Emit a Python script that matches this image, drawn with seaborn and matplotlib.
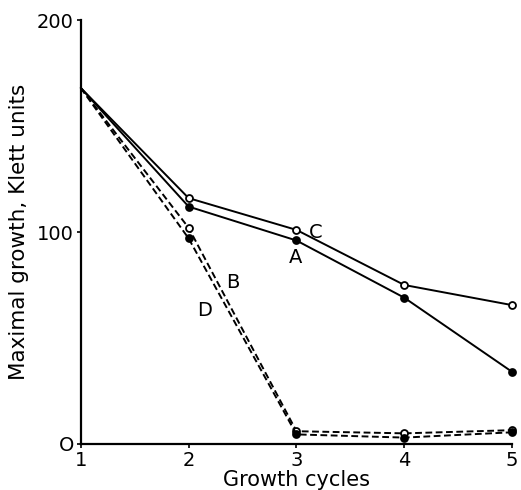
import matplotlib
matplotlib.use("Agg")
import matplotlib.pyplot as plt
import seaborn as sns
import pandas as pd

cycles = [1, 2, 3, 4, 5]
series_a = [168, 112, 96, 69, 34]
series_c = [168, 116, 101, 75, 65.5]
series_b = [168, 102, 6, 5, 6.5]
series_d = [168, 97, 4.5, 3, 5.5]
y_ticks = [0, 100, 200]
x_ticks = [1, 2, 3, 4, 5]

sns.set_theme(style="ticks")
plt.rcParams['font.family'] = ['DejaVu Sans']
plt.rcParams['text.color'] = 'black'
plt.rcParams['axes.labelcolor'] = 'black'

fig = plt.figure(figsize=(5.21, 4.90), dpi=100)
ax = fig.add_axes([0.155, 0.094, 0.828, 0.865])

specs = [
    (series_a, "-", "black"),
    (series_c, "-", "white"),
    (series_b, (0, (3.5, 1.8)), "white"),
    (series_d, (0, (3.5, 1.8)), "black"),
]
for vals, ls, mfc in specs:
    df = pd.DataFrame({"x": cycles, "y": vals})
    sns.lineplot(data=df, x="x", y="y", ax=ax, color="black", linestyle=ls,
                 linewidth=1.4, marker="o", markersize=5, markerfacecolor=mfc,
                 markeredgecolor="black", markeredgewidth=1.3, clip_on=False,
                 markevery=[1, 2, 3, 4])

ax.set_xlim(1, 5)
ax.set_ylim(0, 200)
ax.set_xticks(x_ticks)
ax.set_yticks(y_ticks)
ax.set_xticklabels([str(t) for t in x_ticks])
ax.set_yticklabels(["O", "100", "200"])
ax.tick_params(axis="both", direction="out", length=3, width=1.2, labelsize=14,
               colors="black", pad=2)
for side in ["top", "right"]:
    ax.spines[side].set_visible(False)
for side in ["left", "bottom"]:
    ax.spines[side].set_linewidth(1.6)
    ax.spines[side].set_color("black")

ax.set_xlabel("Growth cycles", fontsize=15, labelpad=0)
ax.set_ylabel("Maximal growth, Klett units", fontsize=15.5, labelpad=6)

ax.text(3.18, 100, "C", fontsize=14, ha="center", va="center")
ax.text(2.99, 88, "A", fontsize=14, ha="center", va="center")
ax.text(2.41, 76, "B", fontsize=14, ha="center", va="center")
ax.text(2.15, 63, "D", fontsize=14, ha="center", va="center")

fig.savefig("out.png", dpi=100)
